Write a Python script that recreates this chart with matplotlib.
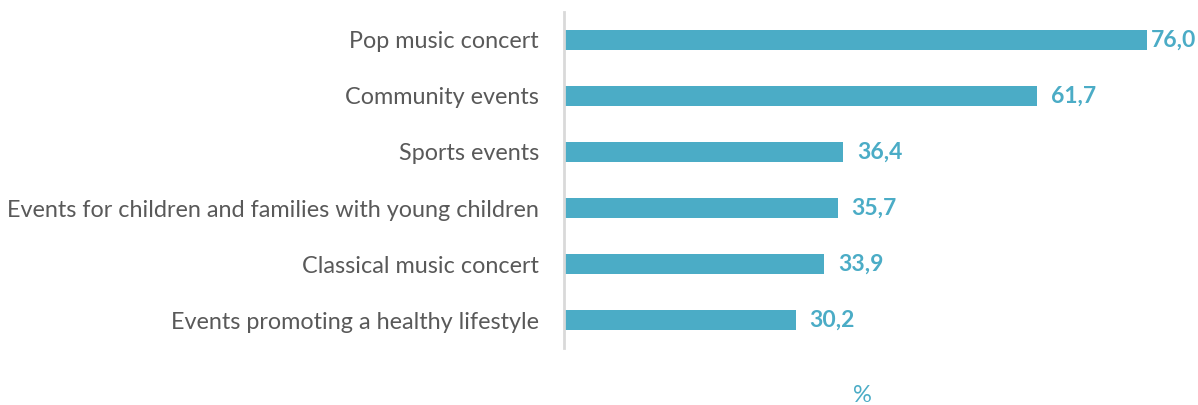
import matplotlib
matplotlib.use('Agg')
import matplotlib.pyplot as plt

categories = ['Pop music concert', 'Community events', 'Sports events',
              'Events for children and families with young children',
              'Classical music concert', 'Events promoting a healthy lifestyle']
values = [76.0, 61.7, 36.4, 35.7, 33.9, 30.2]
value_labels = ['76,0', '61,7', '36,4', '35,7', '33,9', '30,2']

bar_color = '#4BACC6'
plt.rcParams['font.family'] = ['Lato', 'DejaVu Sans']

fig = plt.figure(figsize=(11.98, 4.05), dpi=100)
ax = fig.add_axes([0.4708, 0.1407, 0.512, 0.8297])

y = list(range(len(categories)))
ax.barh(y, values, height=0.34, color=bar_color, zorder=2)
ax.set_ylim(len(categories) - 0.5, -0.5)
ax.set_xlim(0, 80)

for yi, v, lab in zip(y, values, value_labels):
    # last label gets pushed in so it stays inside the figure
    ax.text(min(v + 1.8, 76.6), yi, lab, va='center', ha='left', fontsize=16.5,
            fontweight='bold', color=bar_color)

ax.set_yticks(y)
ax.set_yticklabels(categories, fontsize=16.8, color='#595959')
ax.tick_params(axis='y', length=0, pad=18)
ax.set_xticks([])
for s in ['top', 'right', 'bottom']:
    ax.spines[s].set_visible(False)
ax.spines['left'].set_color('#D9D9D9')
ax.spines['left'].set_linewidth(2)

fig.text(862 / 1198, 1 - 396 / 405, '%', ha='center', va='center',
         fontsize=17, color=bar_color)

fig.savefig('out.png', dpi=100)
